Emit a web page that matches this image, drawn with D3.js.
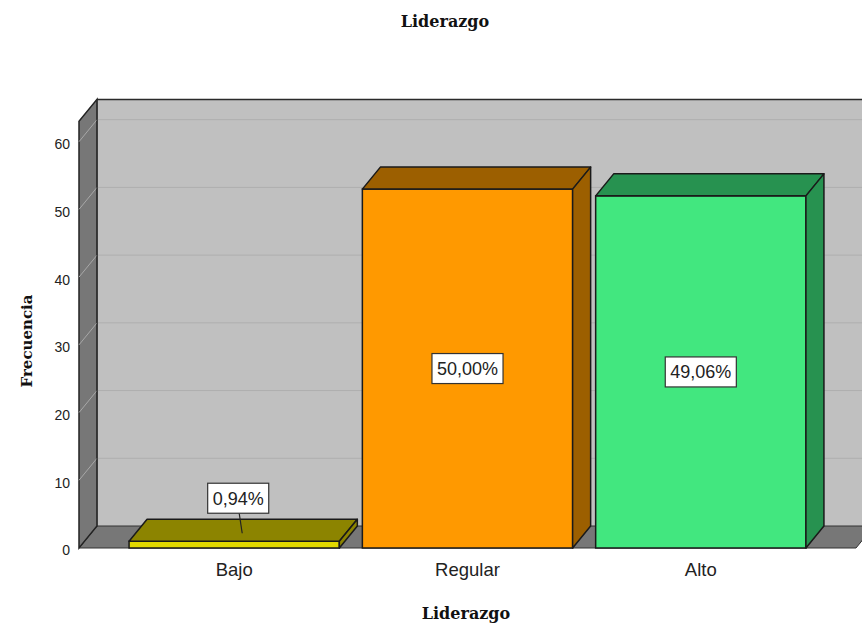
<!DOCTYPE html>
<html><head><meta charset="utf-8">
<script src="https://cdn.jsdelivr.net/npm/d3@7"></script>
<style>html,body{margin:0;padding:0;background:#fff;overflow:hidden}</style>
</head><body>
<script>
const categories = ["Bajo", "Regular", "Alto"];
const counts = [1, 53, 52];
const percentLabels = ["0,94%", "50,00%", "49,06%"];
const yTicks = [0, 10, 20, 30, 40, 50, 60];
const yMax = 63;
const chartTitle = "Liderazgo";
const xTitle = "Liderazgo";
const yTitle = "Frecuencia";

const frontColors = ["#e2d900", "#ff9900", "#42e77f"];
const sideColors = ["#8c8400", "#9c5f00", "#279250"];

const W = 862, H = 623;
const left = 79, right = 856, bottom = 548;
const dx = 18, dy = -22;

const svg = d3.select("body").append("svg").attr("width", W).attr("height", H);

const y = d3.scaleLinear().domain([0, 60]).range([bottom, 141.7]);
const x = d3.scaleBand().domain(categories).range([left, right])
  .paddingInner(0.0987).paddingOuter(0.2146);

const yTop = y(yMax);

// back wall
svg.append("rect").attr("x", left + dx).attr("y", yTop + dy)
  .attr("width", right - left + 20).attr("height", bottom - yTop)
  .attr("fill", "#c0c0c0");
svg.selectAll("line.bg").data(yTicks.filter(d => d > 0)).enter().append("line")
  .attr("x1", left + dx).attr("x2", W + 20)
  .attr("y1", d => y(d) + dy).attr("y2", d => y(d) + dy)
  .attr("stroke", "#aeaeae").attr("stroke-width", 1);
svg.append("line").attr("x1", left + dx).attr("x2", W + 20)
  .attr("y1", yTop + dy).attr("y2", yTop + dy)
  .attr("stroke", "#2a2a2a").attr("stroke-width", 1.5);

// floor
svg.append("polygon")
  .attr("points", [[left, bottom], [right, bottom], [right + dx, bottom + dy], [left + dx, bottom + dy]].join(" "))
  .attr("fill", "#777777").attr("stroke", "#333").attr("stroke-width", 1);

// left wall
svg.append("polygon")
  .attr("points", [[left, bottom], [left, yTop], [left + dx, yTop + dy], [left + dx, bottom + dy]].join(" "))
  .attr("fill", "#777777").attr("stroke", "#222").attr("stroke-width", 1.5);
svg.selectAll("line.lw").data(yTicks.filter(d => d > 0)).enter().append("line")
  .attr("x1", left).attr("x2", left + dx)
  .attr("y1", d => y(d)).attr("y2", d => y(d) + dy)
  .attr("stroke", "#a8a8a8").attr("stroke-width", 1);
svg.append("line").attr("x1", left + dx).attr("x2", left + dx)
  .attr("y1", yTop + dy).attr("y2", bottom + dy).attr("stroke", "#333").attr("stroke-width", 1);

// y axis tick labels
const yAxis = d3.axisLeft(y).tickValues(yTicks).tickSize(0).tickPadding(9);
const gy = svg.append("g").attr("transform", `translate(${left},2.5)`).call(yAxis);
gy.select(".domain").remove();
gy.selectAll("text").attr("font-family", "'Liberation Sans', Arial, sans-serif")
  .attr("font-size", 14).attr("fill", "#222");

// x axis category labels
const xAxis = d3.axisBottom(x).tickSize(0).tickPadding(15);
const gx = svg.append("g").attr("transform", `translate(0,${bottom})`).call(xAxis);
gx.select(".domain").remove();
gx.selectAll("text").attr("font-family", "'Liberation Sans', Arial, sans-serif")
  .attr("font-size", 18.5).attr("fill", "#222");

// bars
const bw = x.bandwidth();
categories.forEach((c, i) => {
  const x0 = x(c), x1 = x0 + bw, yt = y(counts[i]);
  const g = svg.append("g");
  g.append("rect").attr("x", x0).attr("y", yt).attr("width", bw).attr("height", bottom - yt)
    .attr("fill", frontColors[i]).attr("stroke", "#1a1a1a").attr("stroke-width", 1.5);
  g.append("polygon")
    .attr("points", [[x0, yt], [x0 + dx, yt + dy], [x1 + dx, yt + dy], [x1, yt]].join(" "))
    .attr("fill", sideColors[i]).attr("stroke", "#1a1a1a").attr("stroke-width", 1.5).attr("stroke-linejoin", "round");
  g.append("polygon")
    .attr("points", [[x1, yt], [x1 + dx, yt + dy], [x1 + dx, bottom + dy], [x1, bottom]].join(" "))
    .attr("fill", sideColors[i]).attr("stroke", "#1a1a1a").attr("stroke-width", 1.5).attr("stroke-linejoin", "round");
});

// value labels
categories.forEach((c, i) => {
  let cx = x(c) + bw / 2;
  let cy = y(counts[i] / 2);
  const small = (bottom - y(counts[i])) < 40;
  if (small) { cy = y(counts[i]) - 43; cx += 4; }
  const g = svg.append("g");
  const t = g.append("text").attr("x", cx).attr("y", cy).attr("dy", "0.35em")
    .attr("text-anchor", "middle").attr("font-family", "'Liberation Sans', Arial, sans-serif")
    .attr("font-size", 18).attr("fill", "#222").text(percentLabels[i]);
  const bb = t.node().getBBox();
  const bwid = bb.width + 10, bh = 30;
  if (small) {
    g.insert("line", "text").attr("x1", cx + 1).attr("y1", cy + bh / 2)
      .attr("x2", cx + 4).attr("y2", y(counts[i]) + dy / 2 + 3)
      .attr("stroke", "#222").attr("stroke-width", 1.2);
  }
  g.insert("rect", "text").attr("x", cx - bwid / 2).attr("y", cy - bh / 2)
    .attr("width", bwid).attr("height", bh).attr("fill", "#fff")
    .attr("stroke", "#333").attr("stroke-width", 1.2);
});

// titles
svg.append("text").attr("x", 445).attr("y", 27).attr("text-anchor", "middle")
  .attr("font-family", "'DejaVu Serif', serif").attr("font-weight", "bold")
  .attr("font-size", 16).attr("fill", "#111").text(chartTitle);
svg.append("text").attr("x", 466).attr("y", 619).attr("text-anchor", "middle")
  .attr("font-family", "'DejaVu Serif', serif").attr("font-weight", "bold")
  .attr("font-size", 16).attr("fill", "#111").text(xTitle);
svg.append("text").attr("transform", "translate(32,341) rotate(-90)").attr("text-anchor", "middle")
  .attr("font-family", "'DejaVu Serif', serif").attr("font-weight", "bold")
  .attr("font-size", 15).attr("fill", "#111").text(yTitle);
</script>
</body></html>
